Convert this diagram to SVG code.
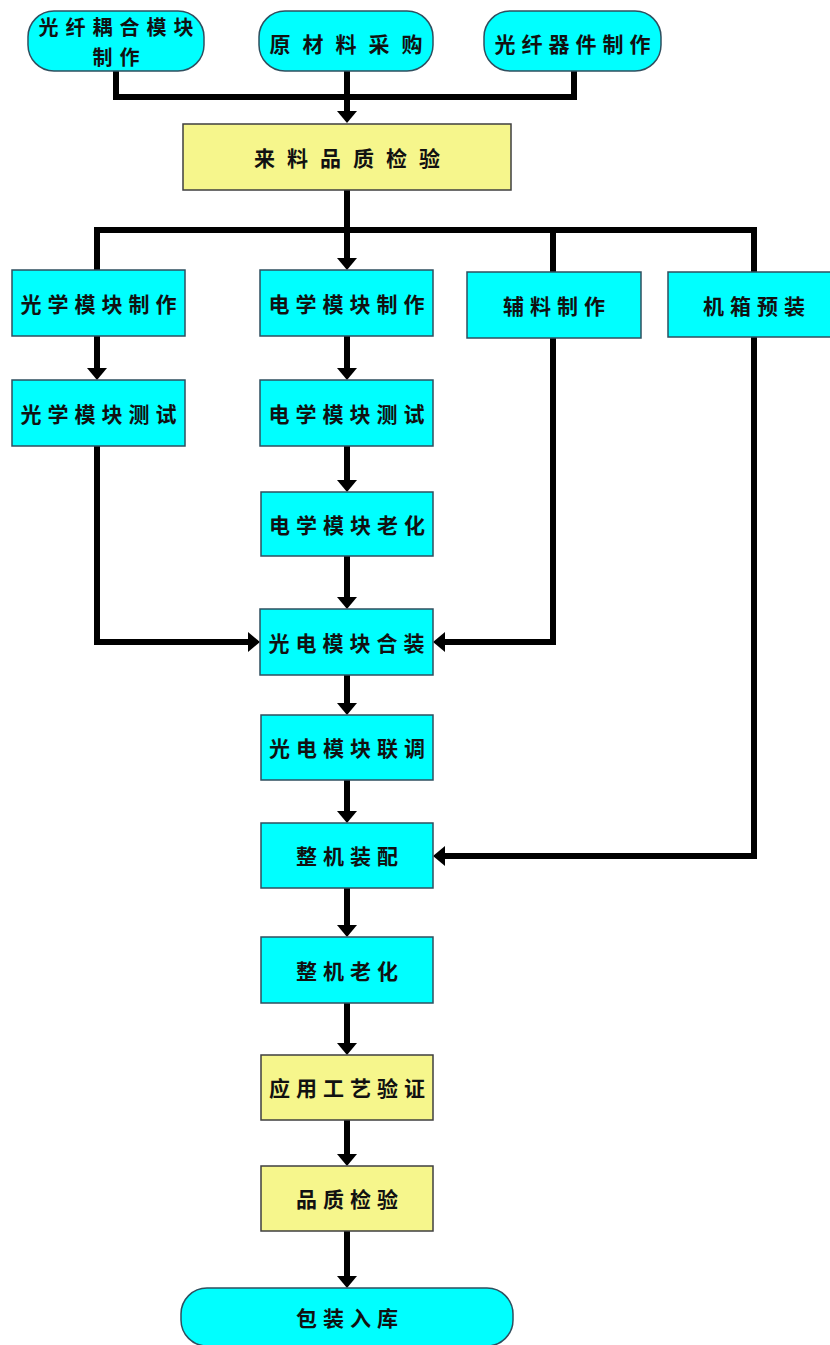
<svg xmlns="http://www.w3.org/2000/svg" width="830" height="1345" viewBox="0 0 830 1345">
<style>
.c{fill:#00FFFF;stroke:#2F4F5F;stroke-width:1.5}
.y{fill:#F6F68C;stroke:#3F3F3F;stroke-width:1.5}
.t{font-family:"Noto Sans CJK SC","Noto Sans CJK TC",sans-serif;font-weight:bold;font-size:21px;fill:#111;text-anchor:middle;dominant-baseline:central;letter-spacing:6px}
.w{letter-spacing:12px}
.s{font-size:20px;letter-spacing:7px}
.ln{fill:none;stroke:#000;stroke-width:6;stroke-linejoin:miter}
</style>
<defs>
<marker id="ah" markerUnits="userSpaceOnUse" viewBox="0 -10 12 20" markerWidth="12" markerHeight="20" refX="2" refY="0" orient="auto">
<path d="M0,-10 L12,0 L0,10 Z" fill="#000"/>
</marker>
</defs>
<rect width="830" height="1345" fill="#fff"/>
<g id="connectors">
<path class="ln" d="M116,71 V97 H574 V71"/>
<path class="ln" d="M347,71 V113" marker-end="url(#ah)"/>
<path class="ln" d="M347,190 V260" marker-end="url(#ah)"/>
<path class="ln" d="M97,270 V230 H754 V272"/>
<path class="ln" d="M553,230 V272"/>
<path class="ln" d="M97,336 V370" marker-end="url(#ah)"/>
<path class="ln" d="M347,336 V370" marker-end="url(#ah)"/>
<path class="ln" d="M347,446 V482" marker-end="url(#ah)"/>
<path class="ln" d="M347,556 V599" marker-end="url(#ah)"/>
<path class="ln" d="M97,446 V642 H250" marker-end="url(#ah)"/>
<path class="ln" d="M553,338 V642 H443" marker-end="url(#ah)"/>
<path class="ln" d="M347,675 V705" marker-end="url(#ah)"/>
<path class="ln" d="M347,780 V813" marker-end="url(#ah)"/>
<path class="ln" d="M754,337 V856 H443" marker-end="url(#ah)"/>
<path class="ln" d="M347,888 V927" marker-end="url(#ah)"/>
<path class="ln" d="M347,1003 V1045" marker-end="url(#ah)"/>
<path class="ln" d="M347,1120 V1156" marker-end="url(#ah)"/>
<path class="ln" d="M347,1231 V1278" marker-end="url(#ah)"/>
</g>
<g id="n1"><rect class="c" x="28" y="11" width="176" height="60" rx="26"/><text class="t s" x="119.5" y="26">光纤耦合模块</text><text class="t s" x="119.5" y="56">制作</text></g>
<g id="n2"><rect class="c" x="259" y="11" width="174" height="60" rx="26"/><text class="t w" x="352" y="43">原材料采购</text></g>
<g id="n3"><rect class="c" x="484" y="11" width="177" height="60" rx="26"/><text class="t" x="575.5" y="43">光纤器件制作</text></g>
<g id="n4"><rect class="y" x="183" y="124" width="328" height="66"/><text class="t w" x="353" y="157">来料品质检验</text></g>
<g id="n5"><rect class="c" x="12" y="270" width="173" height="66"/><text class="t" x="101.5" y="303">光学模块制作</text></g>
<g id="n6"><rect class="c" x="260" y="270" width="173" height="66"/><text class="t" x="349.5" y="303">电学模块制作</text></g>
<g id="n7"><rect class="c" x="467" y="272" width="174" height="66"/><text class="t" x="557" y="305">辅料制作</text></g>
<g id="n8"><rect class="c" x="668" y="272" width="164" height="65"/><text class="t" x="757" y="305">机箱预装</text></g>
<g id="n9"><rect class="c" x="12" y="380" width="173" height="66"/><text class="t" x="101.5" y="413">光学模块测试</text></g>
<g id="n10"><rect class="c" x="260" y="380" width="173" height="66"/><text class="t" x="349.5" y="413">电学模块测试</text></g>
<g id="n11"><rect class="c" x="261" y="492" width="172" height="64"/><text class="t" x="350" y="524">电学模块老化</text></g>
<g id="n12"><rect class="c" x="260" y="609" width="173" height="66"/><text class="t" x="349.5" y="642">光电模块合装</text></g>
<g id="n13"><rect class="c" x="261" y="715" width="172" height="65"/><text class="t" x="350" y="747">光电模块联调</text></g>
<g id="n14"><rect class="c" x="261" y="823" width="172" height="65"/><text class="t" x="350" y="855">整机装配</text></g>
<g id="n15"><rect class="c" x="261" y="937" width="172" height="66"/><text class="t" x="350" y="970">整机老化</text></g>
<g id="n16"><rect class="y" x="261" y="1055" width="172" height="65"/><text class="t" x="350" y="1087">应用工艺验证</text></g>
<g id="n17"><rect class="y" x="261" y="1166" width="172" height="65"/><text class="t" x="350" y="1198">品质检验</text></g>
<g id="n18"><rect class="c" x="181" y="1288" width="332" height="58" rx="26"/><text class="t" x="350" y="1317">包装入库</text></g>
</svg>
